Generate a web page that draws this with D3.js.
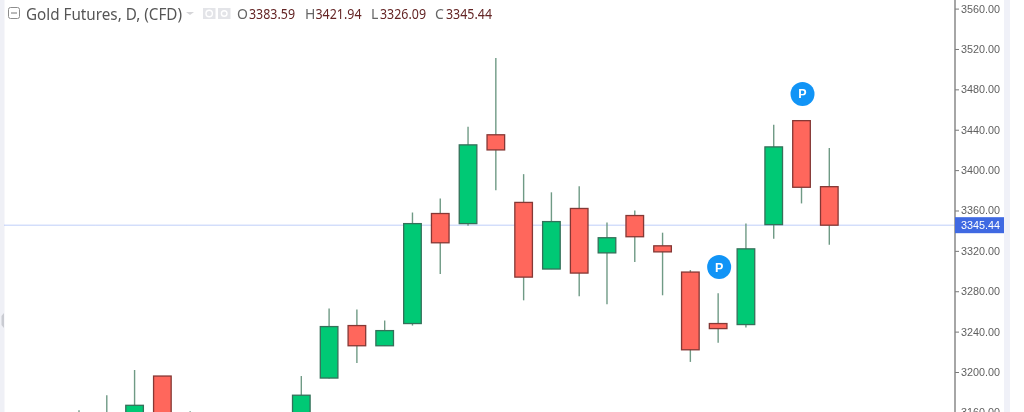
<!DOCTYPE html>
<html><head><meta charset="utf-8">
<script src="https://cdn.jsdelivr.net/npm/d3@7"></script>
<style>html,body{margin:0;padding:0;background:#fff;overflow:hidden}svg{display:block;filter:blur(.45px)}</style>
</head><body><svg id="c" width="1024" height="412"></svg>
<script>
const opens  = [3130,3130,3140,3196,3130,3120,3110,3120,3150,3194,3246,3226,3248,3357,3347,3435,3368,3302,3362,3318,3355,3325,3299,3248,3247,3346,3449,3383.59];
const highs  = [3162,3177,3202,3196,3161,3150,3150,3150,3196,3263,3262,3251,3358,3372,3443,3511,3396,3378,3384,3348,3360,3338,3301,3278,3347,3445,3449,3421.94];
const lows   = [3110,3110,3120,3130,3110,3100,3090,3100,3145,3193.6,3209,3226,3246,3297,3345,3380,3271,3302,3275,3267,3309,3276,3210,3229,3244,3332,3367,3326.09];
const closes = [3150,3150,3167,3150,3150,3140,3130,3145,3177,3245,3226,3241,3347,3328,3425,3420,3294,3349,3298,3333,3334,3319,3222,3243,3322,3423,3383,3345.44];
const priceTicks = [3160,3200,3240,3280,3320,3360,3400,3440,3480,3520,3560];
const lastPrice = 3345.44;
const pinIndex = [23,26];
const pinPrice = [3304,3475.5];
const title = "Gold Futures, D, (CFD)";
const ohlcLabels = ["O","H","L","C"];
const ohlcValues = ["3383.59","3421.94","3326.09","3345.44"];

const svg = d3.select("#c");
const x = d3.scaleLinear().domain([0,27]).range([79,829.3]);
const y = d3.scaleLinear().domain([3200,3560]).range([372,8.6]);
const UP="#00c975",DOWN="#ff675c",UPB="#35705a",DOWNB="#853835",WICK="#6f9a85";
const FONT="'Liberation Sans',Arial,sans-serif", LFONT="'Noto Sans',sans-serif";

svg.append("rect").attr("x",0).attr("y",0).attr("width",4.5).attr("height",412).attr("fill","#eff0f6");
svg.append("rect").attr("x",1004).attr("y",0).attr("width",6).attr("height",412).attr("fill","#f0f1f8");
svg.append("path").attr("d","M4 313 L1.5 316 V325 L4 328 Z").attr("fill","#c9cbd2");

svg.append("line").attr("x1",4.5).attr("x2",955).attr("y1",y(lastPrice)).attr("y2",y(lastPrice))
  .attr("stroke","#7d9cf2").attr("stroke-width",1).attr("stroke-dasharray","1 1");

const c = svg.selectAll("g.k").data(d3.range(opens.length)).join("g").attr("class","k");
c.append("line").attr("x1",i=>x(i)).attr("x2",i=>x(i)).attr("y1",i=>y(highs[i])).attr("y2",i=>y(lows[i]))
  .attr("stroke",WICK).attr("stroke-width",1.4);
c.append("rect").attr("x",i=>x(i)-8.8).attr("width",17.6)
  .attr("y",i=>y(Math.max(opens[i],closes[i])))
  .attr("height",i=>Math.abs(y(opens[i])-y(closes[i])))
  .attr("fill",i=>closes[i]>=opens[i]?UP:DOWN)
  .attr("stroke",i=>closes[i]>=opens[i]?UPB:DOWNB).attr("stroke-width",1.3);

const pins = svg.selectAll("g.p").data(pinIndex.map((d,i)=>i)).join("g").attr("class","p")
  .attr("transform",i=>`translate(${x(pinIndex[i])+1},${y(pinPrice[i])})`);
pins.append("circle").attr("r",12).attr("fill","#1194f6");
pins.append("text").text("P").attr("text-anchor","middle").attr("y",4.5).attr("fill","#fff")
  .attr("font-family",FONT).attr("font-weight",700).attr("font-size",12.5);

const axis = d3.axisRight(y).tickValues(priceTicks).tickSize(4).tickPadding(2).tickFormat(d3.format(".2f"));
const ag = svg.append("g").attr("transform","translate(955,0)").call(axis);
ag.select(".domain").remove();
ag.selectAll("line").attr("stroke","#777").attr("stroke-width",1);
ag.selectAll("text").attr("font-family",FONT).attr("font-size",10.8).attr("fill","#5f5f5f");
svg.append("line").attr("x1",955).attr("x2",955).attr("y1",0).attr("y2",412).attr("stroke","#808080").attr("stroke-width",1.4);

svg.append("rect").attr("x",955).attr("y",y(lastPrice)-8).attr("width",49).attr("height",16).attr("fill","#3f69e2");
svg.append("text").text(d3.format(".2f")(lastPrice)).attr("x",961).attr("y",y(lastPrice)+4)
  .attr("fill","#fff").attr("font-family",FONT).attr("font-size",10.8);

// legend
svg.append("rect").attr("x",8.5).attr("y",7.5).attr("width",11).attr("height",11).attr("rx",2)
  .attr("fill","#fff").attr("stroke","#8d8d8d");
svg.append("line").attr("x1",11).attr("x2",17).attr("y1",13).attr("y2",13).attr("stroke","#777");
svg.append("text").text(title).attr("x",26).attr("y",19.5).attr("font-family",LFONT).attr("font-size",16.5)
  .attr("fill","#555").attr("textLength",156).attr("lengthAdjust","spacingAndGlyphs");
svg.append("path").attr("d","M186 12 h8 l-4 3 z").attr("fill","#d5d5d8");
[203,218].forEach((bx,i)=>{
  svg.append("rect").attr("x",bx).attr("y",8).attr("width",12.5).attr("height",11).attr("fill","#e3e4e8");
  svg.append("circle").attr("cx",bx+6.2).attr("cy",13.5).attr("r",i?2.8:3.2).attr("fill","none").attr("stroke","#fff").attr("stroke-width",1.4);
});
const lx=[237,305,371,435], vx=[249,315.5,380,446];
ohlcLabels.forEach((l,i)=>{
  svg.append("text").text(l).attr("x",lx[i]).attr("y",18.8).attr("font-family",LFONT).attr("font-size",14).attr("fill","#666");
  svg.append("text").text(ohlcValues[i]).attr("x",vx[i]).attr("y",18.8).attr("font-family",LFONT).attr("font-size",14)
    .attr("fill","#642525").attr("textLength",46).attr("lengthAdjust","spacingAndGlyphs");
});
</script></body></html>
